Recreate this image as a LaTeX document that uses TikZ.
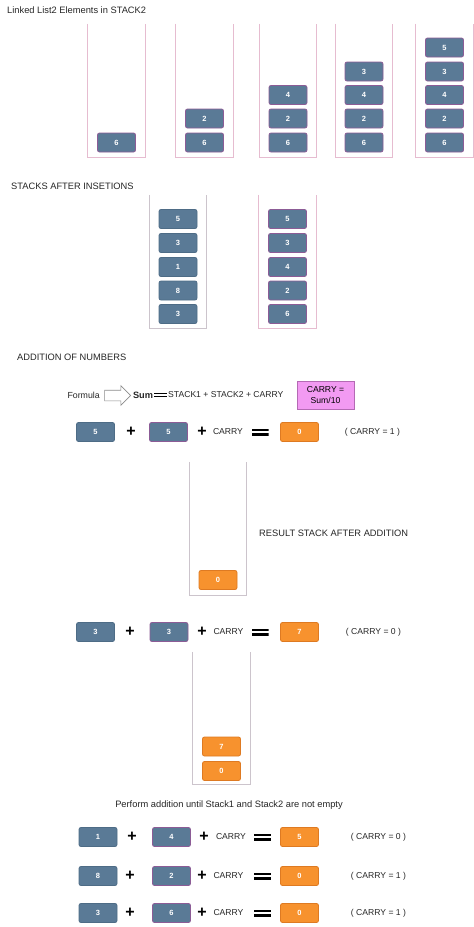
\documentclass[tikz,border=0pt]{standalone}
\usepackage{fontspec}
\setmainfont{Liberation Sans}
\usetikzlibrary{shapes.arrows}
\definecolor{slate}{HTML}{5A7A96}
\definecolor{slateb}{HTML}{4E6C86}
\definecolor{purp}{HTML}{8C5C96}
\definecolor{stk}{HTML}{E6BCD0}
\definecolor{stkg}{HTML}{CCC4CC}
\definecolor{org}{HTML}{F7922E}
\definecolor{orgb}{HTML}{DE7A22}
\definecolor{carryf}{HTML}{F29AF2}
\definecolor{carryb}{HTML}{B46AB4}
\tikzset{
 num/.style={rounded corners=2pt, minimum width=38pt, minimum height=19pt, inner sep=0pt, text=white, font=\fontsize{7.5}{8}\selectfont\bfseries, line width=0.8pt},
 bluebox/.style={num, fill=slate, draw=purp},
 bluebox2/.style={num, fill=slate, draw=slateb},
 orbox/.style={num, fill=org, draw=orgb},
 stackbox/.style={minimum width=57pt, minimum height=133pt, inner sep=0pt},
 stackline/.style={draw=stk, line width=0.8pt},
 stacklineg/.style={draw=stkg, line width=0.8pt},
 lbl/.style={font=\fontsize{9.3}{11}\selectfont, inner sep=0pt, text=black!85},
 sml/.style={font=\fontsize{8.6}{10}\selectfont, inner sep=0pt, text=black!85},
 plus/.style={font=\fontsize{16}{16}\selectfont\bfseries, inner sep=0pt},
 eqsign/.style={minimum width=17pt, minimum height=7pt, inner sep=0pt, path picture={\fill[black] (path picture bounding box.north west) rectangle ++(17pt,-2.4pt); \fill[black] (path picture bounding box.south west) rectangle ++(17pt,2.4pt);}},
 eqsmall/.style={minimum width=13pt, minimum height=4.5pt, inner sep=0pt, path picture={\fill[black] (path picture bounding box.north west) rectangle ++(13pt,-1.5pt); \fill[black] (path picture bounding box.south west) rectangle ++(13pt,1.5pt);}},
}
\begin{document}
\begin{tikzpicture}[x=1pt,y=-1pt]
\useasboundingbox[fill=white] (0,0) rectangle (474,927);

% ---- Section 1
\node[lbl, anchor=west] (t1) at (7,10) {Linked List2 Elements in STACK2};
\node[stackbox] (s1) at (116.5,90.5) {};
\node[stackbox] (s2) at (204.5,90.5) {};
\node[stackbox] (s3) at (288,90.5) {};
\node[stackbox] (s4) at (364,90.5) {};
\node[stackbox] (s5) at (444.5,90.5) {};
\foreach \s in {s1,s2,s3,s4,s5}
  \draw[stackline] (\s.north west) |- (\s.south east) -- (\s.north east);

\node[bluebox] (s1a) at (116.5,142.5) {6};

\node[bluebox] (s2a) at (204.5,142.5) {6};
\node[bluebox] (s2b) at (204.5,118.5) {2};

\node[bluebox] (s3a) at (288,142.5) {6};
\node[bluebox] (s3b) at (288,118.5) {2};
\node[bluebox] (s3c) at (288,95) {4};

\node[bluebox] (s4a) at (364,142.5) {6};
\node[bluebox] (s4b) at (364,118.5) {2};
\node[bluebox] (s4c) at (364,95) {4};
\node[bluebox] (s4d) at (364,71.5) {3};

\node[bluebox] (s5a) at (444.5,142.5) {6};
\node[bluebox] (s5b) at (444.5,118.5) {2};
\node[bluebox] (s5c) at (444.5,95) {4};
\node[bluebox] (s5d) at (444.5,71.5) {3};
\node[bluebox] (s5e) at (444.5,47.5) {5};

% ---- Section 2
\node[lbl, anchor=west] (t2) at (11,186) {STACKS AFTER INSETIONS};
\node[stackbox] (sa) at (178,261.5) {};
\node[stackbox] (sb) at (287.5,261.5) {};
\draw[stacklineg] (sa.north west) |- (sa.south east) -- (sa.north east);
\draw[stackline] (sb.north west) |- (sb.south east) -- (sb.north east);

\node[bluebox2] (sa1) at (178,219) {5};
\node[bluebox2] (sa2) at (178,243) {3};
\node[bluebox2] (sa3) at (178,267) {1};
\node[bluebox2] (sa4) at (178,290.5) {8};
\node[bluebox2] (sa5) at (178,314) {3};

\node[bluebox] (sb1) at (287.5,219) {5};
\node[bluebox] (sb2) at (287.5,243) {3};
\node[bluebox] (sb3) at (287.5,267) {4};
\node[bluebox] (sb4) at (287.5,290.5) {2};
\node[bluebox] (sb5) at (287.5,314) {6};

% ---- Section 3
\node[lbl, anchor=west] (t3) at (17,357) {ADDITION OF NUMBERS};
\node[lbl, anchor=east, font=\fontsize{8.8}{10}\selectfont] (fm) at (100,395) {Formula};
\node[single arrow, draw=black!45, fill=white, line width=0.6pt, minimum height=26pt, minimum width=0pt, inner xsep=0pt, inner ysep=5pt, single arrow head extend=4.5pt] (fa) at (115,395.5) {};
\node[lbl, font=\fontsize{9.2}{10}\selectfont\bfseries] (fs) at (143,395) {Sum};
\node[eqsmall] (fe) at (160.5,395) {};
\node[sml, anchor=west] (ff) at (168,395) {STACK1 + STACK2 + CARRY};
\node[fill=carryf, draw=carryb, line width=0.7pt, minimum width=57pt, minimum height=28pt, inner sep=0pt, align=center, font=\fontsize{8.6}{10.5}\selectfont] (cb) at (325.5,395) {CARRY =\\Sum/10};

\node[bluebox2] (r1a) at (95.5,432) {5};
\node[plus] (r1p1) at (131,432) {+};
\node[bluebox] (r1b) at (168.5,432) {5};
\node[plus] (r1p2) at (202,432) {+};
\node[sml] (r1c) at (228,432) {CARRY};
\node[eqsign] (r1e) at (260,432) {};
\node[orbox] (r1r) at (299.5,432) {0};
\node[sml] (r1t) at (372.5,432) {( CARRY = 1 )};

\node[stackbox] (rs1) at (218,528.5) {};
\draw[stacklineg] (rs1.north west) |- (rs1.south east) -- (rs1.north east);
\node[orbox] (rs1a) at (218,580) {0};
\node[lbl, anchor=west] (t4) at (259,533) {RESULT STACK AFTER ADDITION};

\node[bluebox2] (r2a) at (95.5,632) {3};
\node[plus] (r2p1) at (130,632) {+};
\node[bluebox] (r2b) at (169,632) {3};
\node[plus] (r2p2) at (202,632) {+};
\node[sml] (r2c) at (228.5,632) {CARRY};
\node[eqsign] (r2e) at (260,632) {};
\node[orbox] (r2r) at (299.5,632) {7};
\node[sml] (r2t) at (373.5,632) {( CARRY = 0 )};

\node[stackbox, minimum height=132pt] (rs2) at (221.5,718) {};
\draw[stacklineg] (rs2.north west) |- (rs2.south east) -- (rs2.north east);
\node[orbox] (rs2a) at (221.5,771) {0};
\node[orbox] (rs2b) at (221.5,746.5) {7};

% ---- Section 4
\node[lbl] (t5) at (229,805) {Perform addition until Stack1 and Stack2 are not empty};

\node[bluebox2] (r3a) at (98,837) {1};
\node[plus] (r3p1) at (132,837) {+};
\node[bluebox] (r3b) at (171.5,837) {4};
\node[plus] (r3p2) at (204,837) {+};
\node[sml] (r3c) at (231,837) {CARRY};
\node[eqsign] (r3e) at (262.5,837) {};
\node[orbox] (r3r) at (299.5,837) {5};
\node[sml] (r3t) at (378.5,837) {( CARRY = 0 )};

\node[bluebox2] (r4a) at (98,876) {8};
\node[plus] (r4p1) at (130,876) {+};
\node[bluebox] (r4b) at (171.5,876) {2};
\node[plus] (r4p2) at (202,876) {+};
\node[sml] (r4c) at (228.5,876) {CARRY};
\node[eqsign] (r4e) at (262.5,876) {};
\node[orbox] (r4r) at (299.5,876) {0};
\node[sml] (r4t) at (378.5,876) {( CARRY = 1 )};

\node[bluebox2] (r5a) at (98,913) {3};
\node[plus] (r5p1) at (130,913) {+};
\node[bluebox] (r5b) at (171.5,913) {6};
\node[plus] (r5p2) at (202,913) {+};
\node[sml] (r5c) at (228.5,913) {CARRY};
\node[eqsign] (r5e) at (262.5,913) {};
\node[orbox] (r5r) at (299.5,913) {0};
\node[sml] (r5t) at (378.5,913) {( CARRY = 1 )};
\end{tikzpicture}
\end{document}
